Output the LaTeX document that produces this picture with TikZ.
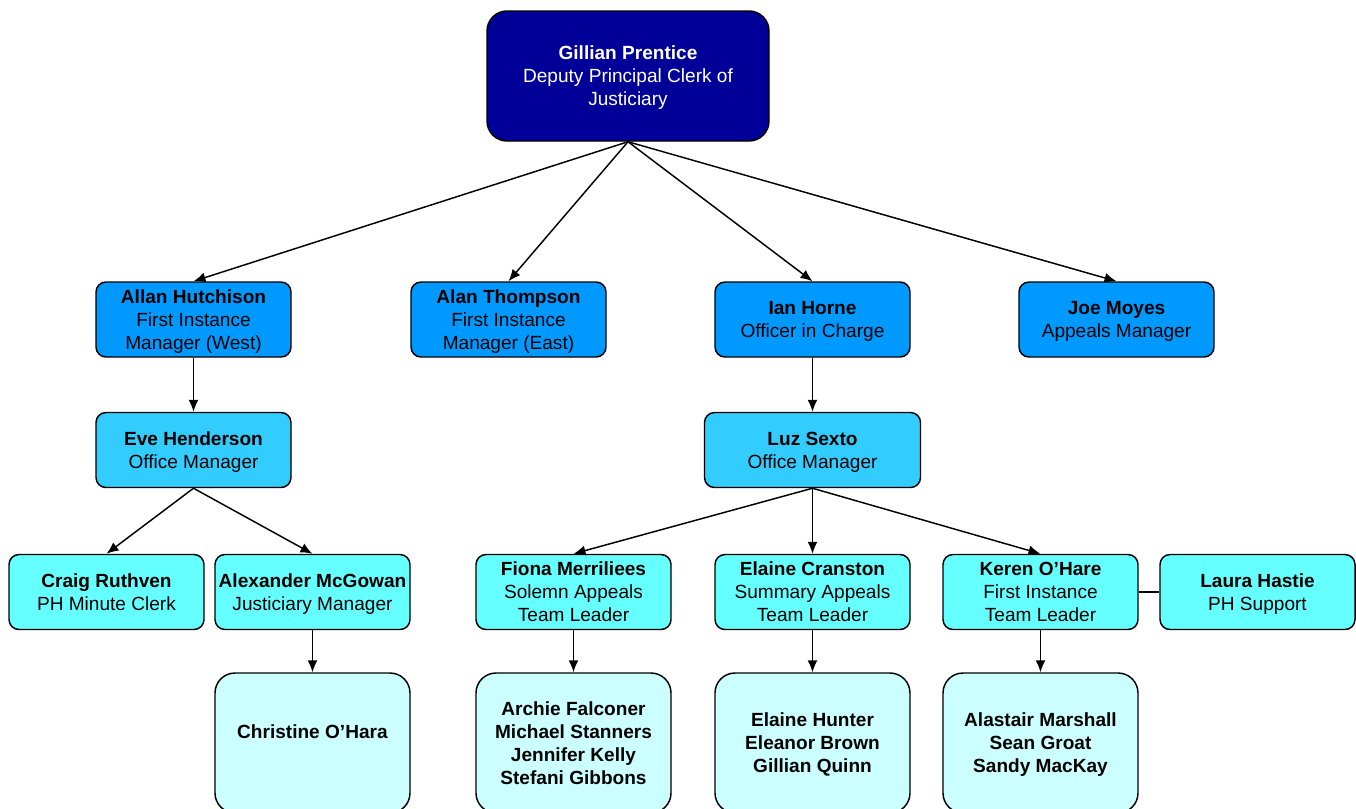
\documentclass[tikz,border=0pt]{standalone}
\usepackage{fontspec}
\setmainfont{Liberation Sans}
\usepackage{xcolor}
\usetikzlibrary{arrows.meta}

\definecolor{navybox}{HTML}{000099}
\definecolor{bluebox}{HTML}{0099FF}
\definecolor{skybox}{HTML}{33CCFF}
\definecolor{cyanbox}{HTML}{66FFFF}
\definecolor{palebox}{HTML}{CCFFFF}

% name line, with a strut so every box sets its text alike
\newcommand{\nm}[1]{\rule{0pt}{13pt}\textbf{#1}}

\tikzset{
    box/.style={draw=black, line width=1.1pt, rounded corners=7.5pt,
                align=center, inner sep=1pt,
                minimum width=146.25pt, minimum height=56.25pt,
                font=\fontsize{14.3}{17.25}\selectfont,
                execute at end node={\rule[-3pt]{0pt}{3pt}}},
    topbox/.style={box, fill=navybox, text=white, rounded corners=15pt,
                   minimum width=211.5pt, minimum height=97.5pt},
    headbox/.style={box, fill=bluebox},
    officebox/.style={box, fill=skybox},
    leadbox/.style={box, fill=cyanbox},
    teambox/.style={box, fill=palebox, rounded corners=15pt,
                    minimum height=105pt},
    link/.style={line width=1.1pt, -{Latex[length=9pt,width=7.5pt]}}
}

\begin{document}
\begin{tikzpicture}[x=0.75pt, y=-0.75pt]
        \useasboundingbox (0,0) rectangle (1356,808);
        \clip (0,0) rectangle (1356,808);
        \node[topbox] (gp) at (628,76)                  %top
             {\nm{Gillian Prentice}\\Deputy Principal Clerk of\\Justiciary};
        \node[headbox] (ah) at (193.5,319.5)            %managers
             {\nm{Allan Hutchison}\\First Instance\\Manager (West)};
        \node[headbox] (at) at (508.5,319.5)
             {\nm{Alan Thompson}\\First Instance\\Manager (East)};
        \node[headbox] (ih) at (812.5,319.5)
             {\nm{Ian Horne}\\Officer in Charge};
        \node[headbox] (jm) at (1116.5,319.5)
             {\nm{Joe Moyes}\\Appeals Manager};
        \node[officebox] (eh) at (193.5,450)            %office
             {\nm{Eve Henderson}\\Office Manager};
        \node[officebox, minimum width=162pt] (ls) at (812.5,450)
             {\nm{Luz Sexto}\\Office Manager};
        \node[leadbox] (cr) at (106.5,592)              %team leaders
             {\nm{Craig Ruthven}\\PH Minute Clerk};
        \node[leadbox] (am) at (312.5,592)
             {\nm{Alexander McGowan}\\Justiciary Manager};
        \node[leadbox] (fm) at (573.5,592)
             {\nm{Fiona Merriliees}\\Solemn Appeals\\Team Leader};
        \node[leadbox] (ec) at (812.5,592)
             {\nm{Elaine Cranston}\\Summary Appeals\\Team Leader};
        \node[leadbox] (ko) at (1040.5,592)
             {\nm{Keren O’Hare}\\First Instance\\Team Leader};
        \node[leadbox] (lh) at (1257.5,592)
             {\nm{Laura Hastie}\\PH Support};
        \node[teambox] (co) at (312.5,743)              %teams
             {\nm{Christine O’Hara}\\~};
        \node[teambox] (fteam) at (573.5,743)
             {\nm{Archie Falconer}\\\textbf{Michael Stanners}\\\textbf{Jennifer Kelly}\\\textbf{Stefani Gibbons}};
        \node[teambox] (steam) at (812.5,743)
             {\nm{Elaine Hunter}\\\textbf{Eleanor Brown}\\\textbf{Gillian Quinn}};
        \node[teambox] (kteam) at (1040.5,743)
             {\nm{Alastair Marshall}\\\textbf{Sean Groat}\\\textbf{Sandy MacKay}};

        \draw[link] (gp.south) -- (ah.north);
        \draw[link] (gp.south) -- (at.north);
        \draw[link] (gp.south) -- (ih.north);
        \draw[link] (gp.south) -- (jm.north);
        \draw[link] (ah) -- (eh);
        \draw[link] (ih) -- (ls);
        \draw[link] (eh.south) -- (cr.north);
        \draw[link] (eh.south) -- (am.north);
        \draw[link] (ls.south) -- (fm.north);
        \draw[link] (ls.south) -- (ec.north);
        \draw[link] (ls.south) -- (ko.north);
        \draw[link] (am) -- (co);
        \draw[link] (fm) -- (fteam);
        \draw[link] (ec) -- (steam);
        \draw[link] (ko) -- (kteam);
        \draw[line width=1.1pt] (ko) -- (lh);
    \end{tikzpicture}
\end{document}
